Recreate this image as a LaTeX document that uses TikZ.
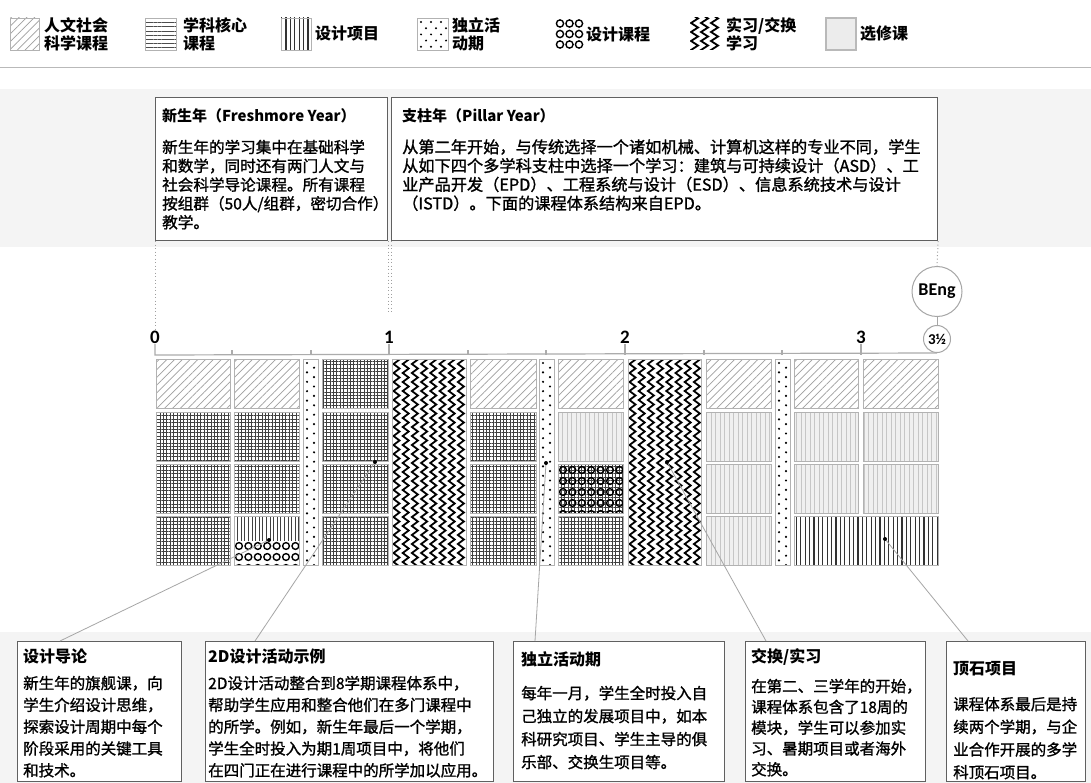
\documentclass[tikz,border=0pt]{standalone}
\usepackage{fontspec}
\setmainfont{Noto Sans CJK SC}
\newfontfamily\bodyfont{Noto Sans CJK SC}[FakeBold=1.2]
\newfontfamily\numfont{Carlito}
\usetikzlibrary{patterns.meta}

\tikzset{
  cellb/.style={draw=gray!60, line width=0.8pt},
  humpat/.style={pattern={Lines[angle=45,distance=5.5pt,line width=0.7pt]}, pattern color=gray!75},
  corepat/.style={pattern={Hatch[angle=0,distance=3.4pt,line width=0.6pt]}, pattern color=black!75},
  projpat/.style={pattern={Lines[angle=90,distance=4.4pt,line width=1.1pt]}, pattern color=black!80},
  projpatB/.style={pattern={Lines[angle=90,distance=3.6pt,line width=0.8pt]}, pattern color=black!75},
  horpat/.style={pattern={Lines[angle=0,distance=4.2pt,line width=1pt]}, pattern color=black!70},
  elecfill/.style={fill=gray!12},
  elecpat/.style={pattern={Lines[angle=90,distance=4.5pt,line width=0.5pt]}, pattern color=gray!45},
  ring/.style={draw=black, line width=1.4pt},
  chev/.style={draw=black, line width=1.8pt, line join=miter},
  dotc/.style={fill=black},
  band/.style={fill=gray!9},
  infobox/.style={draw=gray!75!black, line width=1.1pt, fill=white, inner sep=0pt, anchor=north west},
  conn/.style={draw=gray!70, line width=0.8pt},
  enddot/.style={circle, fill=black, inner sep=0pt, minimum size=4pt},
  dotline/.style={draw=gray!75, line width=1pt, dash pattern=on 1pt off 2.5pt},
  axisline/.style={draw=gray!65, line width=1.2pt},
  legtxt/.style={font=\bfseries\fontsize{16}{18}\selectfont, align=left, anchor=west, inner sep=0pt},
  ttlA/.style={font=\bfseries\fontsize{15}{18}\selectfont, anchor=base west, inner sep=0pt},
  ttlB/.style={font=\bfseries\fontsize{16}{18}\selectfont, anchor=base west, inner sep=0pt},
  bodyA/.style={font=\bodyfont\fontsize{15.6}{18}\selectfont, anchor=base west, inner sep=0pt},
  bodyB/.style={font=\bodyfont\fontsize{16.2}{18}\selectfont, anchor=base west, inner sep=0pt},
  bodyC/.style={font=\bodyfont\fontsize{15.5}{18}\selectfont, anchor=base west, inner sep=0pt},
  axlab/.style={font=\numfont\bfseries\fontsize{19}{19}\selectfont, inner sep=1pt},
  ybub/.style={circle, draw=gray!70, line width=1pt, fill=white, inner sep=0pt},
}

\newcommand\cellBorder[4]{\draw[cellb] (#1,#2) rectangle (#3,#4);}
\newcommand\cellHum[4]{\path[humpat] (#1,#2) rectangle (#3,#4);\cellBorder{#1}{#2}{#3}{#4}}
\newcommand\cellCore[4]{\path[corepat] (#1,#2) rectangle (#3,#4);\cellBorder{#1}{#2}{#3}{#4}}
\newcommand\cellElec[4]{\fill[elecfill] (#1,#2) rectangle (#3,#4);\path[elecpat] (#1,#2) rectangle (#3,#4);\cellBorder{#1}{#2}{#3}{#4}}
\newcommand\cellProj[4]{\path[projpat] (#1,#2) rectangle (#3,#4);\cellBorder{#1}{#2}{#3}{#4}}
\newcommand\fillDots[4]{\begin{scope}\clip (#1,#2) rectangle (#3,#4);
  \foreach \k in {0,...,22}{\fill[dotc] ({#1+4},{#2+4+9.4*\k}) circle (1.2pt);\fill[dotc] ({#1+11},{#2+8.7+9.4*\k}) circle (1.2pt);}\end{scope}}
\newcommand\fillRings[4]{\begin{scope}\clip (#1,#2) rectangle (#3,#4);
  \foreach \i in {0,...,7}{\foreach \j in {0,...,4}{\draw[ring] ({#1+5+9.4*\i},{#2+6+11*\j}) circle (3.4pt);}}\end{scope}}
\newcommand\fillChev[4]{\begin{scope}\clip (#1,#2) rectangle (#3,#4);
  \foreach \i in {0,...,7}{\draw[chev] ({#1+1.5+9.2*\i},{#2-4}) \foreach \j in {0,...,24}{ -- ++(6,4.5) -- ++(-6,4.5)};}\end{scope}}
\newcommand\txtlines[6]{\foreach \t [count=\i] in {#6}{\node[#1] (#2-\i) at (#3,{#4+#5*(\i-1)}) {\t};}}

\begin{document}
\begin{tikzpicture}[x=1pt,y=-1pt]
\useasboundingbox (0,0) rectangle (1091,783);
\fill[white] (0,0) rectangle (1091,783);

% ---------- legend ----------
\path[humpat] (10,18) rectangle (39,50); \cellBorder{10}{18}{39}{50}
\node[legtxt] (lg1) at (44,34) {人文社会\\科学课程};
\path[horpat] (145,18) rectangle (176,50); \cellBorder{145}{18}{176}{50}
\node[legtxt] (lg2) at (183,34) {学科核心\\课程};
\path[projpat] (281,18) rectangle (311,50); \cellBorder{281}{18}{311}{50}
\node[legtxt] (lg3) at (315,34) {设计项目};
\begin{scope}\clip (417,18) rectangle (448,50);
 \foreach \j in {0,...,4}{\foreach \i in {0,1,2}{\fill[dotc] ({421+10*\i},{22+12.4*\j}) circle (1.1pt);\fill[dotc] ({426+10*\i},{28.2+12.4*\j}) circle (1.1pt);}}
\end{scope}
\cellBorder{417}{18}{448}{50}
\node[legtxt] (lg4) at (452,34) {独立活\\动期};
\foreach \i in {0,1,2}{\foreach \j in {0,1,2}{\draw[ring] ({560+9.5*\i},{23.5+10.5*\j}) circle (3.6pt);}}
\node[legtxt] (lg5) at (586,34) {设计课程};
\begin{scope}\clip (690,18) rectangle (721,50);
 \foreach \i in {0,1,2}{\draw[chev] ({691+10*\i},14) \foreach \j in {0,...,4}{ -- ++(7,4.5) -- ++(-7,4.5)};}
\end{scope}
\node[legtxt] (lg6) at (726,34) {实习/交换\\学习};
\fill[gray!15] (826,18) rectangle (856,50); \draw[gray!55, line width=1.2pt] (826,18) rectangle (856,50);
\node[legtxt] (lg7) at (860,34) {选修课};

\draw[gray!55, line width=0.8pt] (0,67) -- (1091,67);

% ---------- bands ----------
\fill[band] (0,89) rectangle (1091,247);
\fill[band] (0,632) rectangle (1091,783);

% ---------- top boxes ----------
\node[infobox, minimum width=232pt, minimum height=143pt] (fy) at (155,97) {};
\node[infobox, minimum width=546pt, minimum height=143pt] (py) at (391,97) {};
\node[ttlA] (fyt) at (162,122) {新生年（Freshmore Year）};
\txtlines{bodyA}{fyb}{162}{153}{18.8}{新生年的学习集中在基础科学,和数学，同时还有两门人文与,社会科学导论课程。所有课程,按组群（50人/组群，密切合作）,教学。}
\node[ttlA] (pyt) at (402,122) {支柱年（Pillar Year）};
\txtlines{bodyB}{pyb}{402}{153}{18.8}{从第二年开始，与传统选择一个诸如机械、计算机这样的专业不同，学生,从如下四个多学科支柱中选择一个学习：建筑与可持续设计（ASD）、工,业产品开发（EPD）、工程系统与设计（ESD）、信息系统技术与设计,（ISTD）。下面的课程体系结构来自EPD。}

% ---------- axis ----------
\node[axlab] (l0) at (155,337) {0};
\node[axlab] (l1) at (389,337) {1};
\node[axlab] (l2) at (625,337) {2};
\node[axlab] (l3) at (861,337) {3};
\node[ybub, minimum size=50pt, font=\numfont\bfseries\fontsize{18}{18}\selectfont] (beng) at (937,291.5) {BEng};
\node[ybub, minimum size=27pt, font=\numfont\bfseries\fontsize{15}{15}\selectfont] (half) at (937,339) {3½};
\draw[gray!70, line width=1pt] (beng) -- (half);
\draw[dotline] (fy.south west) -- (l0.north);
\draw[dotline] (fy.south east) -- ++(0,72);
\draw[dotline] (py.south west) -- ++(0,72);
\draw[dotline] (py.south east) -- (beng.north);
\draw[axisline] (155,344) -- (155,355) -- (half.south);
\foreach \x in {389,625,861}{\draw[axisline] (\x,344) -- (\x,355);}
\foreach \x in {232,311,468,546,704,782}{\draw[axisline] (\x,350) -- (\x,355);}

% ---------- grid ----------
% column A
\cellHum{156}{359}{230}{408}
\cellCore{156}{412}{230}{461}
\cellCore{156}{464}{230}{513}
\cellCore{156}{516}{230}{565}
% column B
\cellHum{234}{359}{299}{408}
\cellCore{234}{412}{299}{461}
\cellCore{234}{464}{299}{513}
\path[projpatB] (234,516) rectangle (299,540);
\fillRings{234}{540}{299}{565}
\cellBorder{234}{516}{299}{565}
% dots 1
\fillDots{303}{359}{318}{565}\cellBorder{303}{359}{318}{565}
% column C
\cellCore{322}{359}{388}{408}
\cellCore{322}{412}{388}{461}
\cellCore{322}{464}{388}{513}
\cellCore{322}{516}{388}{565}
% chevrons 1
\fillChev{392}{359}{466}{565}\cellBorder{392}{359}{466}{565}
% column D
\cellHum{470}{359}{536}{408}
\cellCore{470}{412}{536}{461}
\cellCore{470}{464}{536}{513}
\cellCore{470}{516}{536}{565}
% dots 2
\fillDots{539}{359}{554}{565}\cellBorder{539}{359}{554}{565}
% column E
\cellHum{558}{359}{623}{408}
\cellElec{558}{412}{623}{461}
\path[corepat] (558,464) rectangle (623,513);
\fillRings{558}{464}{623}{513}
\cellBorder{558}{464}{623}{513}
\cellCore{558}{516}{623}{565}
% chevrons 2
\fillChev{628}{359}{701}{565}\cellBorder{628}{359}{701}{565}
% column F
\cellHum{706}{359}{771}{408}
\cellElec{706}{412}{771}{461}
\cellElec{706}{464}{771}{513}
\cellElec{706}{516}{771}{565}
% dots 3
\fillDots{775}{359}{790}{565}\cellBorder{775}{359}{790}{565}
% columns G, H
\cellHum{794}{359}{858}{408}
\cellElec{794}{412}{858}{461}
\cellElec{794}{464}{858}{513}
\cellHum{863}{359}{938}{408}
\cellElec{863}{412}{938}{461}
\cellElec{863}{464}{938}{513}
\cellProj{794}{516}{938}{565}

% ---------- bottom boxes ----------
\node[infobox, minimum width=164pt, minimum height=140pt] (b1) at (17,641) {};
\node[infobox, minimum width=288pt, minimum height=140pt] (b2) at (205,641) {};
\node[infobox, minimum width=211pt, minimum height=140pt] (b3) at (513,641) {};
\node[infobox, minimum width=180pt, minimum height=140pt] (b4) at (745,641) {};
\node[infobox, minimum width=139pt, minimum height=140pt] (b5) at (946,641) {};

\node[ttlB] (b1t) at (23,662) {设计导论};
\txtlines{bodyC}{b1b}{23}{689}{21.8}{新生年的旗舰课，向,学生介绍设计思维，,探索设计周期中每个,阶段采用的关键工具,和技术。}
\node[ttlB] (b2t) at (208,662) {2D设计活动示例};
\txtlines{bodyC}{b2b}{208}{689}{21.8}{2D设计活动整合到8学期课程体系中，,帮助学生应用和整合他们在多门课程中,的所学。例如，新生年最后一个学期，,学生全时投入为期1周项目中，将他们,在四门正在进行课程中的所学加以应用。}
\node[ttlB] (b3t) at (521,665) {独立活动期};
\txtlines{bodyC}{b3b}{521}{699}{23}{每年一月，学生全时投入自,己独立的发展项目中，如本,科研究项目、学生主导的俱,乐部、交换生项目等。}
\node[ttlB] (b4t) at (751,662) {交换/实习};
\txtlines{bodyC}{b4b}{751}{692}{20.8}{在第二、三学年的开始，,课程体系包含了18周的,模块，学生可以参加实,习、暑期项目或者海外,交换。}
\node[ttlB] (b5t) at (953,674) {顶石项目};
\txtlines{bodyC}{b5b}{953}{710}{22.7}{课程体系最后是持,续两个学期，与企,业合作开展的多学,科顶石项目。}

% ---------- connectors ----------
\coordinate (d1) at (269,540);
\coordinate (d2) at (375,462);
\coordinate (d3) at (546,463);
\coordinate (d4) at (667,462);
\coordinate (d5) at (885,539);
\draw[conn] (d1) -- ([xshift=43pt]b1.north west);
\draw[conn] (d2) -- ([xshift=50pt]b2.north west);
\draw[conn] (d3) -- ([xshift=22pt]b3.north west);
\draw[conn] (d4) -- ([xshift=21pt]b4.north west);
\draw[conn] (d5) -- ([xshift=22pt]b5.north west);
\foreach \d in {d1,d2,d3,d4,d5}{\node[enddot] (\d-m) at (\d) {};}
\end{tikzpicture}
\end{document}
